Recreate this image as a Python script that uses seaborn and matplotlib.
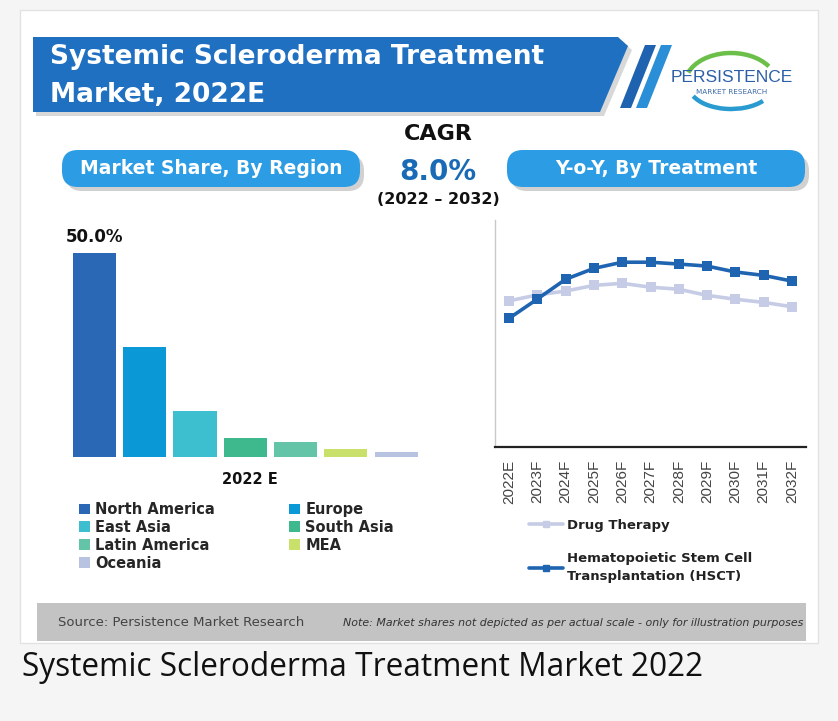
import matplotlib
matplotlib.use('Agg')
import matplotlib.pyplot as plt
from matplotlib.patches import Polygon, Rectangle, FancyBboxPatch, Arc, Patch
from matplotlib.lines import Line2D
import seaborn as sns
import pandas as pd

# market share by region, 2022E (%)
regions = ['North America', 'Europe', 'East Asia', 'South Asia', 'Latin America', 'MEA', 'Oceania']
shares = [50.0, 27.0, 11.3, 4.7, 3.7, 2.0, 1.2]
region_colors = ['#2a68b6', '#0b98d6', '#3dbfd0', '#3db98d', '#63c4a7', '#c9e06b', '#b8c3e2']

# y-o-y growth by treatment (illustrative scale)
years = ['2022E', '2023F', '2024F', '2025F', '2026F', '2027F',
         '2028F', '2029F', '2030F', '2031F', '2032F']
drug_therapy = [6.44, 6.70, 6.87, 7.12, 7.21, 7.04, 6.95, 6.68, 6.51, 6.37, 6.18]
hsct = [5.67, 6.52, 7.39, 7.87, 8.14, 8.14, 8.06, 7.97, 7.71, 7.56, 7.31]
treatments = ['Drug Therapy', 'Hematopoietic Stem Cell\nTransplantation (HSCT)']
treatment_colors = ['#c6cce6', '#1f64b1']

sns.set_style('white')
plt.rcParams['font.family'] = ['DejaVu Sans']

W, H = 838, 721
fig = plt.figure(figsize=(W / 100, H / 100), dpi=100, facecolor='#f5f5f5')

# background layer in pixel coordinates
bg = fig.add_axes([0, 0, 1, 1], zorder=0)
bg.set_xlim(0, W)
bg.set_ylim(H, 0)
bg.axis('off')
bg.patch.set_alpha(0)

bg.add_patch(Rectangle((20, 10), 798, 633, facecolor='white', edgecolor='#e2e2e2', lw=1))

# header banner
bg.add_patch(Polygon([(36, 41), (622, 41), (632, 50), (604, 116), (36, 116)],
                     closed=True, facecolor='#bfbfbf', edgecolor='none', alpha=0.6))
bg.add_patch(Polygon([(33, 37), (618, 37), (628, 46), (600, 112), (33, 112)],
                     closed=True, facecolor='#1f70c1', edgecolor='none'))
bg.add_patch(Polygon([(645, 45), (656, 45), (631, 108), (620, 108)],
                     closed=True, facecolor='#1f62b0', edgecolor='none'))
bg.add_patch(Polygon([(661, 45), (672, 45), (647, 108), (636, 108)],
                     closed=True, facecolor='#2b8fd8', edgecolor='none'))
bg.text(50, 57, 'Systemic Scleroderma Treatment', color='white', fontsize=19,
        fontweight='bold', va='center', ha='left')
bg.text(50, 95, 'Market, 2022E', color='white', fontsize=19,
        fontweight='bold', va='center', ha='left')

# logo
bg.add_patch(Arc((731, 84), 92, 62, theta1=195, theta2=335, color='#6cc04a', lw=3.2))
bg.add_patch(Arc((731, 86), 84, 46, theta1=25, theta2=165, color='#2a9bd0', lw=3.2))
bg.text(732, 78, 'PERSISTENCE', color='#2d5fa6', fontsize=12.5, va='center', ha='center',
        family=['Liberation Sans', 'DejaVu Sans'])
bg.text(732, 92, 'MARKET RESEARCH', color='#3c6aa8', fontsize=5.2, va='center', ha='center')

# CAGR block
bg.text(438, 134, 'CAGR', fontsize=16, fontweight='bold', color='#111', ha='center', va='center')
bg.text(438, 172, '8.0%', fontsize=20, fontweight='bold', color='#1a6bb5', ha='center', va='center')
bg.text(438, 200, '(2022 \u2013 2032)', fontsize=11.5, fontweight='bold', color='#111',
        ha='center', va='center')

# section pills
for x0, x1, label in [(62, 360, 'Market Share, By Region'), (507, 805, 'Y-o-Y, By Treatment')]:
    bg.add_patch(FancyBboxPatch((x0 + 4, 155), x1 - x0, 36,
                                boxstyle='round,pad=0,rounding_size=16',
                                facecolor='#9a9a9a', edgecolor='none', alpha=0.45))
    bg.add_patch(FancyBboxPatch((x0, 150), x1 - x0, 37,
                                boxstyle='round,pad=0,rounding_size=16',
                                facecolor='#2c9ce4', edgecolor='none'))
    bg.text((x0 + x1) / 2, 169, label, color='white', fontsize=13.5, fontweight='bold',
            ha='center', va='center')

# bar chart
ax1 = fig.add_axes([69.3 / W, 1 - 457 / H, 352 / W, 224.4 / H], zorder=1)
ax1.patch.set_alpha(0)
sns.barplot(x=regions, y=shares, hue=regions, palette=region_colors, width=0.86,
            saturation=1, linewidth=0, legend=False, ax=ax1)
ax1.set_xlim(-0.5, len(regions) - 0.5)
ax1.set_ylim(0, 55)
ax1.bar_label(ax1.containers[0], fmt='%.1f%%', padding=5, fontsize=12,
              fontweight='bold', color='#111')
ax1.axis('off')
bg.text(250, 480, '2022 E', fontsize=10.5, fontweight='bold', color='#111',
        ha='center', va='center')

# region legend (column-major order)
order = [0, 2, 4, 6, 1, 3, 5]
handles = [Patch(facecolor=region_colors[i], edgecolor='none') for i in order]
fig.legend(handles, [regions[i] for i in order], ncol=2, loc='upper left',
           bbox_to_anchor=(79 / W, 1 - 502 / H), frameon=False, borderpad=0,
           borderaxespad=0, handlelength=0.75, handleheight=0.75, handletextpad=0.35,
           columnspacing=5.1, labelspacing=0.2,
           prop=dict(weight='bold', size=10.5))

# line chart
ax2 = fig.add_axes([495 / W, 1 - 447 / H, 311 / W, 227 / H], zorder=1)
ax2.patch.set_alpha(0)
df = pd.DataFrame({
    'year': list(range(len(years))) * 2,
    'value': drug_therapy + hsct,
    'treatment': [treatments[0]] * len(years) + [treatments[1]] * len(years),
})
sns.lineplot(data=df, x='year', y='value', hue='treatment', style='treatment',
             markers=['s', 's'], dashes=False, palette=treatment_colors,
             linewidth=2.6, markersize=6.5, mew=0, legend=False, ax=ax2)
ax2.set_xlim(-0.5, len(years) - 0.5)
ax2.set_ylim(0, 10)
ax2.set_xticks(range(len(years)))
ax2.set_xticklabels(years, rotation=90, fontsize=11, color='#444',
                    family=['Liberation Sans', 'DejaVu Sans'])
ax2.set_yticks([])
ax2.set_xlabel('')
ax2.set_ylabel('')
ax2.tick_params(axis='x', length=0, pad=9)
for s in ['top', 'right']:
    ax2.spines[s].set_visible(False)
ax2.spines['left'].set_color('#c8c8c8')
ax2.spines['left'].set_linewidth(1)
ax2.spines['bottom'].set_color('#222')
ax2.spines['bottom'].set_linewidth(1.6)

line_handles = [Line2D([], [], color=c, marker='s', lw=2.6, markersize=5) for c in treatment_colors]
leg = fig.legend(line_handles, treatments, loc='upper left',
                 bbox_to_anchor=(529 / W, 1 - 519 / H), frameon=False, borderpad=0,
                 borderaxespad=0, handlelength=2.6, handletextpad=0.25, labelspacing=1.5,
                 prop=dict(weight='bold', size=9.5))
for t in leg.get_texts():
    t.set_linespacing(1.5)
    t.set_color('#222')

# source strip
bg.add_patch(Rectangle((37, 603), 769, 38, facecolor='#c3c3c3', edgecolor='none'))
bg.text(58, 623, 'Source: Persistence Market Research', fontsize=9.5, color='#444',
        ha='left', va='center')
bg.text(803, 623, 'Note: Market shares not depicted as per actual scale - only for illustration purposes',
        fontsize=7.9, color='#333', style='italic', ha='right', va='center')

# caption
bg.text(22, 668, 'Systemic Scleroderma Treatment Market 2022', fontsize=22.8, color='#111',
        ha='left', va='center', family=['Open Sans', 'DejaVu Sans'])

fig.savefig('out.png', dpi=100, facecolor=fig.get_facecolor())
